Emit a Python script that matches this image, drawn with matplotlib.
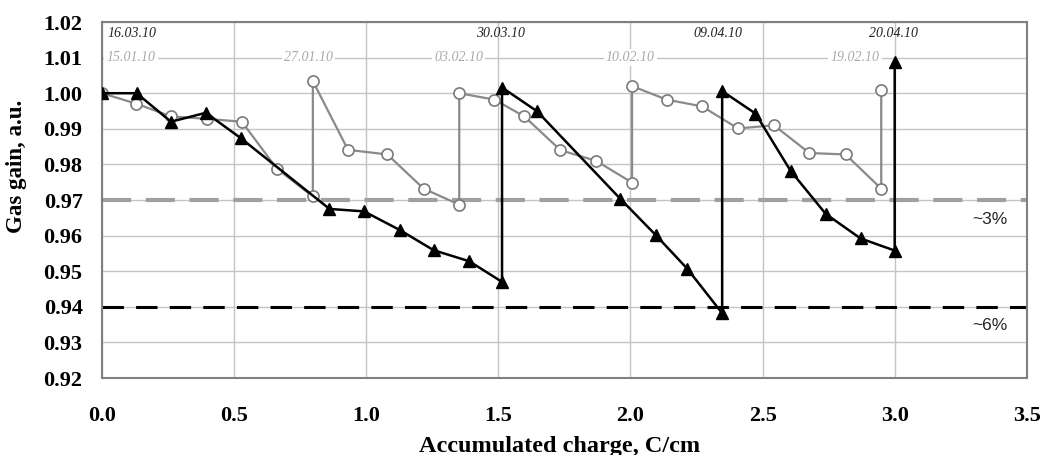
import numpy as np
import matplotlib
matplotlib.use("Agg")
import matplotlib.pyplot as plt

# gray series (open circles), accumulated charge C/cm vs gain
gray_x = [0.0, 0.128, 0.261, 0.396, 0.529, 0.662, 0.798, 0.798, 0.931, 1.08,
          1.217, 1.352, 1.352, 1.485, 1.598, 1.735, 1.870, 2.006, 2.006, 2.137,
          2.271, 2.407, 2.543, 2.677, 2.814, 2.949, 2.949]
gray_y = [1.000, 0.9971, 0.9935, 0.9928, 0.9920, 0.9788, 0.9710, 1.0034, 0.9841, 0.9828,
          0.9732, 0.9687, 1.0000, 0.9982, 0.9935, 0.9840, 0.9810, 0.9749, 1.0020, 0.9982,
          0.9963, 0.9901, 0.9910, 0.9832, 0.9828, 0.9732, 1.0010]

# black series (filled triangles)
black_x = [0.0, 0.131, 0.261, 0.393, 0.525, 0.861, 0.992, 1.129, 1.255, 1.390,
           1.514, 1.514, 1.647, 1.962, 2.095, 2.215, 2.347, 2.347, 2.473, 2.606,
           2.739, 2.871, 3.000, 3.000]
black_y = [1.000, 1.000, 0.992, 0.9945, 0.9874, 0.9675, 0.9668, 0.9615, 0.9559, 0.9528,
           0.9470, 1.0016, 0.9949, 0.9703, 0.9602, 0.9507, 0.9382, 1.0006, 0.9943, 0.9782,
           0.9661, 0.9592, 0.9558, 1.0089]

black_dates = ["16.03.10", "30.03.10", "09.04.10", "20.04.10"]
black_date_x = [0.02, 1.51, 2.33, 2.995]
gray_dates = ["15.01.10", "27.01.10", "03.02.10", "10.02.10", "19.02.10"]
gray_date_x = [0.11, 0.78, 1.35, 2.00, 2.85]

levels = [0.97, 0.94]
level_labels = ["~3%", "~6%"]

fig = plt.figure(figsize=(10.45, 4.55), dpi=100)
ax = fig.add_axes([0.0976, 0.1692, 0.885, 0.7824])

ax.set_xlim(0, 3.5)
ax.set_ylim(0.92, 1.02)
ax.set_xticks(np.arange(0, 3.51, 0.5))
ax.set_yticks(np.arange(0.92, 1.0201, 0.01))
ax.grid(True, color="#c4c4c4", linewidth=1.0)
ax.set_axisbelow(True)

ax.axhline(levels[0], color="#a0a0a0", linewidth=3, dashes=(7, 3.5), zorder=2)
ax.axhline(levels[1], color="black", linewidth=2.2, dashes=(7, 4), zorder=2)

ax.plot(gray_x, gray_y, color="#8a8a8a", linewidth=1.6, marker="o", markersize=8,
        markerfacecolor="white", markeredgecolor="#7a7a7a", markeredgewidth=1.2, zorder=3)
ax.plot(black_x, black_y, color="black", linewidth=1.8, marker="^", markersize=9,
        markerfacecolor="black", zorder=4)

for txt, xx in zip(black_dates, black_date_x):
    ha = "left" if xx < 0.1 else "center"
    ax.text(xx, 1.0168, txt, ha=ha, va="center", fontsize=10, style="italic",
            family="Liberation Serif", color="#222222", zorder=5)
for txt, xx in zip(gray_dates, gray_date_x):
    ax.text(xx, 1.0101, txt, ha="center", va="center", fontsize=10, style="italic",
            family="Liberation Serif", color="#a8a8a8", zorder=5,
            bbox=dict(facecolor="white", edgecolor="none", pad=1.5))

ax.text(3.36, 0.9645, level_labels[0], ha="center", va="center", fontsize=12.5,
        family="Liberation Sans", color="#222222")
ax.text(3.36, 0.9347, level_labels[1], ha="center", va="center", fontsize=12.5,
        family="Liberation Sans", color="#222222")

for s in ax.spines.values():
    s.set_color("#808080")
    s.set_linewidth(1.5)

ax.tick_params(axis="both", length=0)
ax.tick_params(axis="x", pad=20)
ax.tick_params(axis="y", pad=14)
ax.set_xticklabels([f"{v:.1f}" for v in np.arange(0, 3.51, 0.5)])
ax.set_yticklabels([f"{v:.2f}" for v in np.arange(0.92, 1.0201, 0.01)])
for lab in ax.get_xticklabels() + ax.get_yticklabels():
    lab.set_fontfamily("Liberation Serif")
    lab.set_fontweight("bold")
    lab.set_fontsize(16)

ax.set_xlabel("Accumulated charge, C/cm", fontsize=17.5, fontweight="bold",
              family="Liberation Serif")
ax.xaxis.set_label_coords(0.495, -0.163)
ax.set_ylabel("Gas gain, a.u.", fontsize=16.5, fontweight="bold",
              family="Liberation Serif")
ax.yaxis.set_label_coords(-0.081, 0.594)

fig.savefig("out.png", dpi=100)
